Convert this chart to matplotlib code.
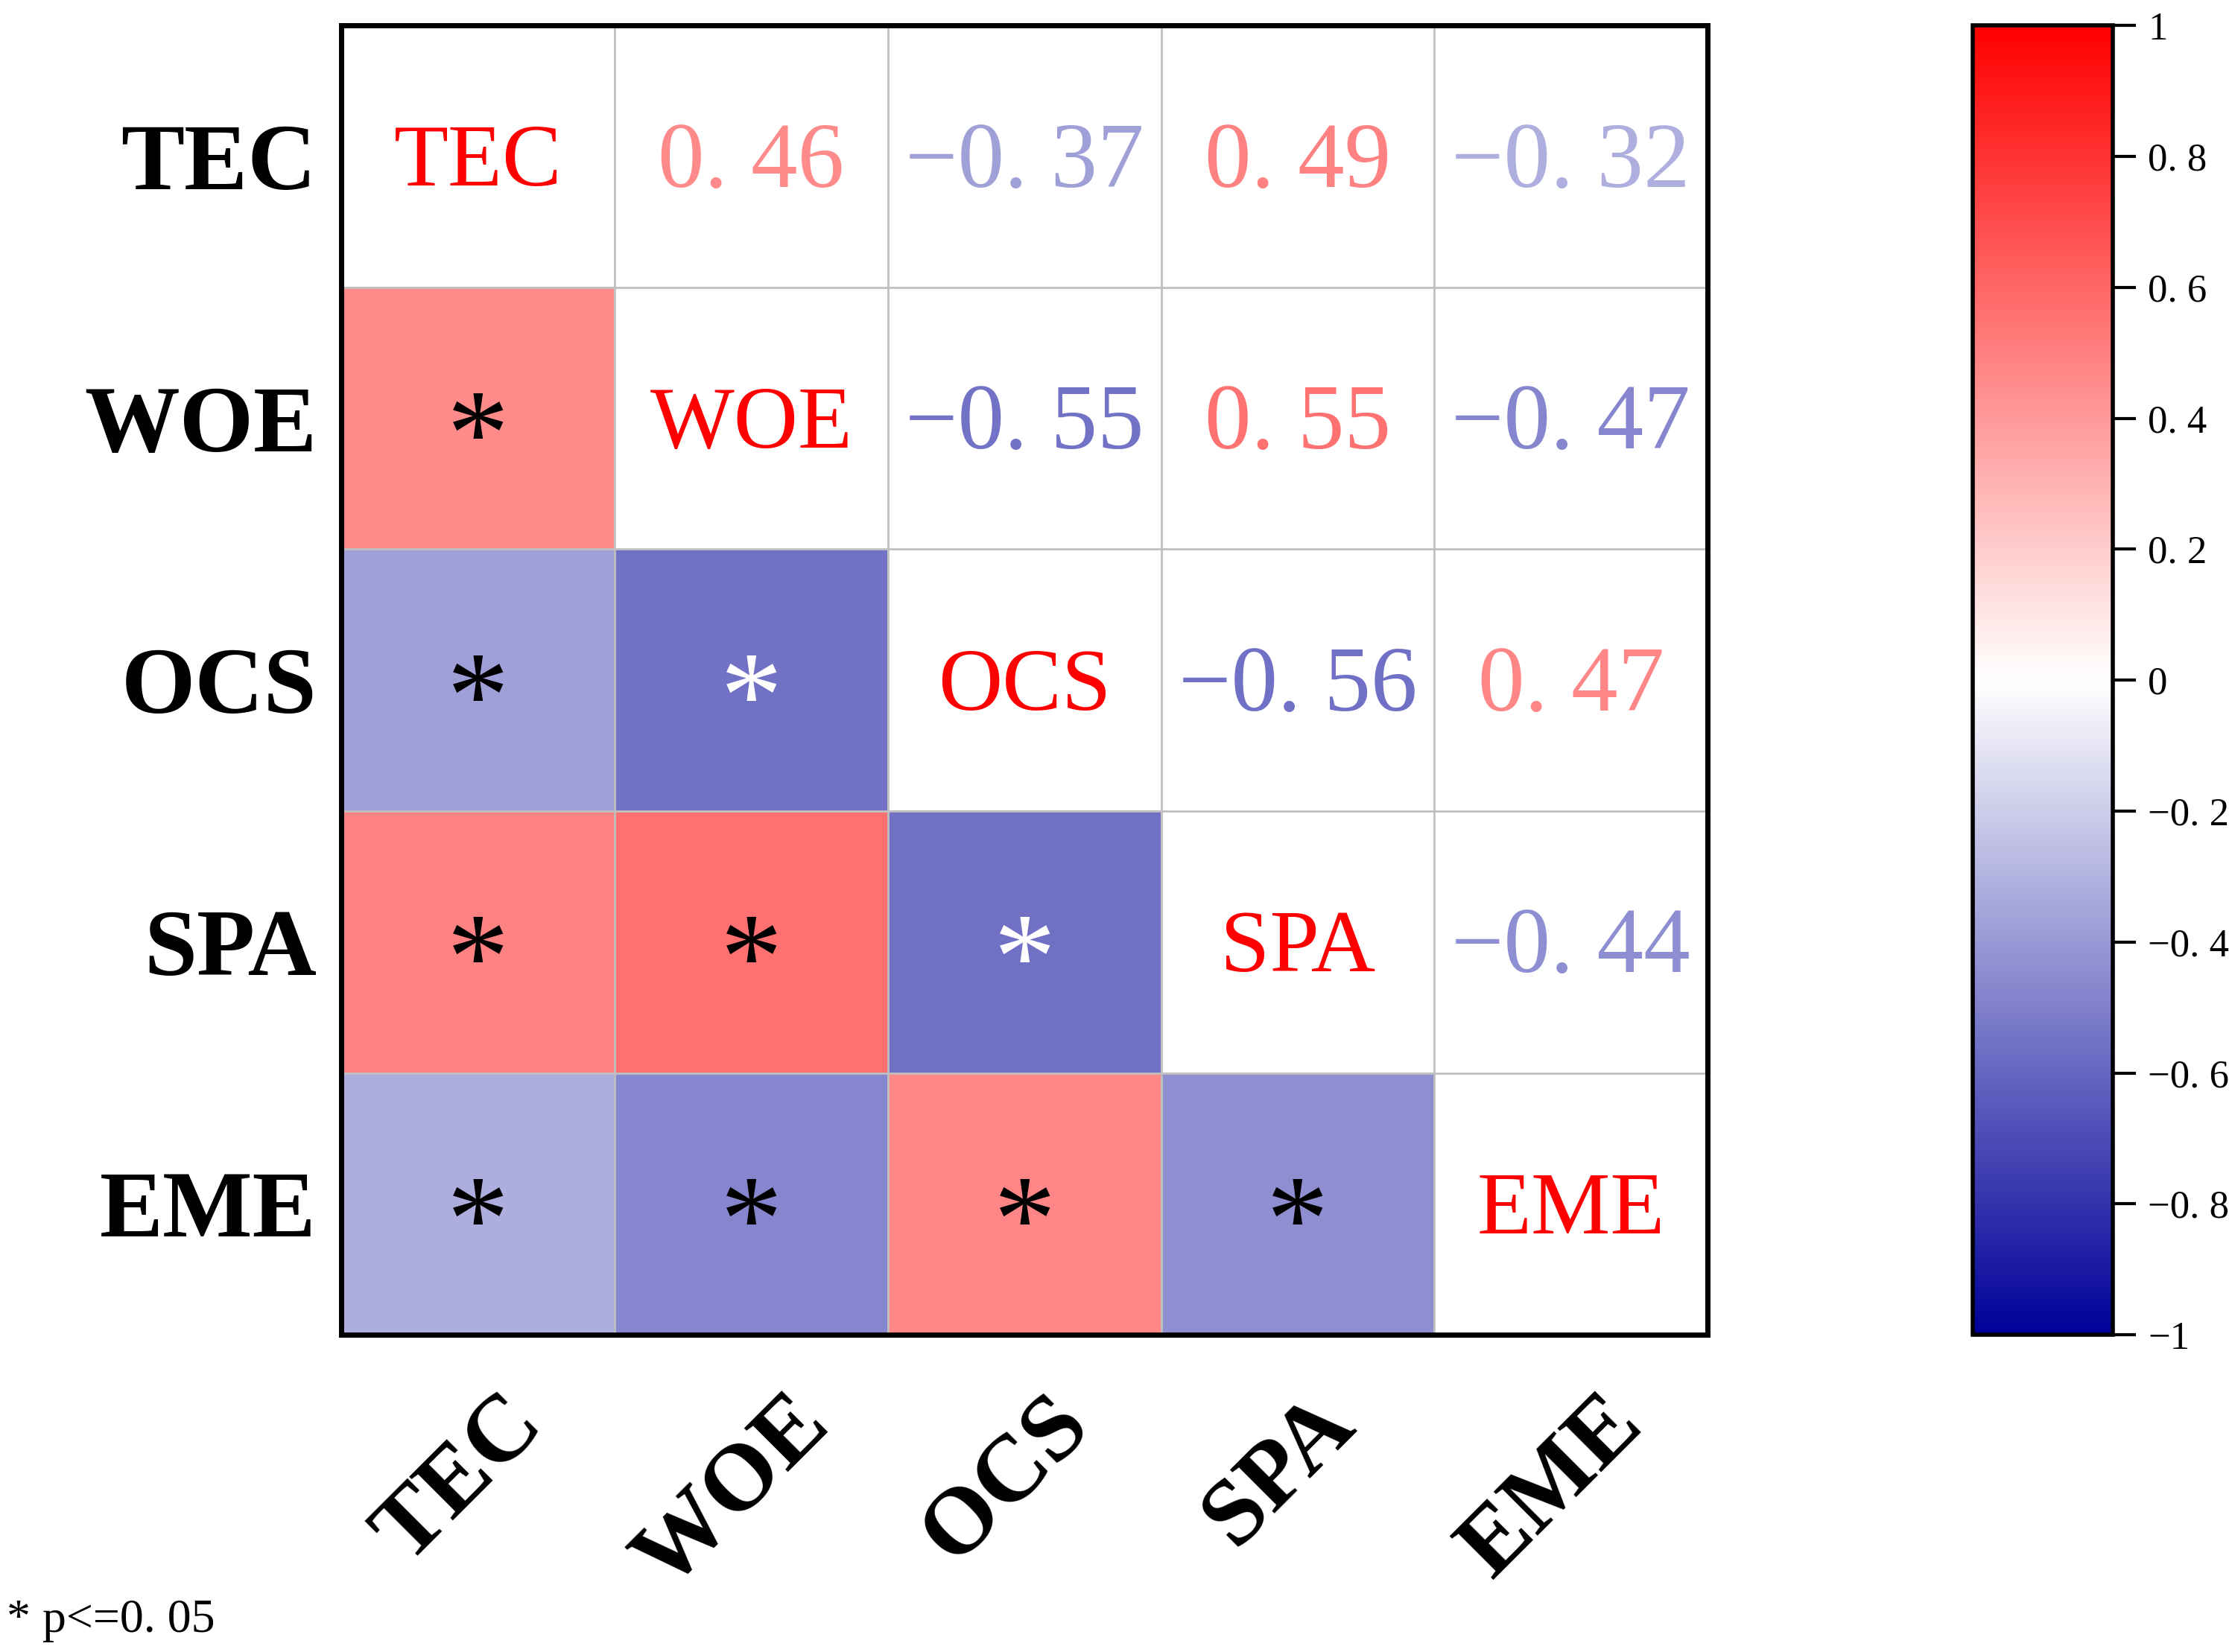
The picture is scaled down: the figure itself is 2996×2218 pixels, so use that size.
import matplotlib
matplotlib.use("Agg")
import matplotlib.pyplot as plt
import matplotlib.transforms as mtransforms
import numpy as np
from matplotlib.colors import LinearSegmentedColormap
from matplotlib.ticker import FuncFormatter

# variables and correlation matrix (symmetric)
labels = ["TEC", "WOE", "OCS", "SPA", "EME"]
row_tec = [1.00, 0.46, -0.37, 0.49, -0.32]
row_woe = [0.46, 1.00, -0.55, 0.55, -0.47]
row_ocs = [-0.37, -0.55, 1.00, -0.56, 0.47]
row_spa = [0.49, 0.55, -0.56, 1.00, -0.44]
row_eme = [-0.32, -0.47, 0.47, -0.44, 1.00]
# significance flags for lower triangle (p<=0.05)
signif = [[0, 0, 0, 0, 0],
          [1, 0, 0, 0, 0],
          [1, 1, 0, 0, 0],
          [1, 1, 1, 0, 0],
          [1, 1, 1, 1, 0]]
cbar_ticks = [-1, -0.8, -0.6, -0.4, -0.2, 0, 0.2, 0.4, 0.6, 0.8, 1]

corr = np.array([row_tec, row_woe, row_ocs, row_spa, row_eme])
n = len(labels)

serif = ["Liberation Serif", "DejaVu Serif"]
plt.rcParams["font.family"] = serif

cmap = LinearSegmentedColormap.from_list("bwr2", [(0, 0, 0.6), (1, 1, 1), (1, 0, 0)], N=256)

fig = plt.figure(figsize=(14.98, 11.09), dpi=200)
ax = fig.add_axes([0.153, 0.192, 0.612, 0.7925])

# only lower triangle gets colour
lower = np.where(np.tril(np.ones((n, n)), k=-1) == 1, corr, np.nan)
cmap_l = cmap.copy()
cmap_l.set_bad("white")
im = ax.imshow(np.ma.masked_invalid(lower), cmap=cmap_l, vmin=-1, vmax=1, aspect="auto")

for i in range(n):
    for j in range(n):
        v = corr[i, j]
        if i == j:
            ax.text(j, i + 0.03, labels[i], ha="center", va="center", color="red", fontsize=43)
        elif j > i:
            txt = f"{v:.2f}".replace("-", "\u2212").replace(".", ". ")
            ax.text(j, i + 0.03, txt, ha="center", va="center", color=cmap((v + 1) / 2), fontsize=45)
        elif signif[i][j]:
            col = "white" if v < -0.5 else "black"
            ax.text(j, i + 0.10, "*", ha="center", va="center", color=col, fontsize=60)

# grid lines
for k in range(1, n):
    ax.axhline(k - 0.5, color="#c0c0c0", lw=1.0)
    ax.axvline(k - 0.5, color="#c0c0c0", lw=1.0)

ax.set_xlim(-0.5, n - 0.5)
ax.set_ylim(n - 0.5, -0.5)
ax.set_xticks(range(n))
ax.set_yticks(range(n))
ax.set_xticklabels(labels, rotation=45, ha="center", va="top", fontsize=46, fontweight="bold")
ax.set_yticklabels(labels, fontsize=46, fontweight="bold")
ax.tick_params(length=0, pad=12)
ax.tick_params(axis="x", pad=22)
shift = mtransforms.ScaledTranslation(-0.12, 0, fig.dpi_scale_trans)
for lab in ax.get_xticklabels():
    lab.set_transform(lab.get_transform() + shift)
for s in ax.spines.values():
    s.set_linewidth(2.5)

cax = fig.add_axes([0.884, 0.192, 0.0625, 0.7925])
cb = fig.colorbar(plt.cm.ScalarMappable(norm=plt.Normalize(-1, 1), cmap=cmap), cax=cax, ticks=cbar_ticks)
cb.outline.set_linewidth(2)
cb.ax.tick_params(length=11, width=1.5, labelsize=19, pad=6)


def fmt(x, pos):
    if abs(x - round(x)) < 1e-9:
        s = f"{int(round(x))}"
    else:
        s = f"{x:.1f}".replace(".", ". ")
    return s.replace("-", "\u2212")


cb.ax.yaxis.set_major_formatter(FuncFormatter(fmt))

fig.text(0.003, 0.006, "* p<=0. 05", fontsize=23, ha="left", va="bottom")

fig.savefig("out.png", dpi=200)
